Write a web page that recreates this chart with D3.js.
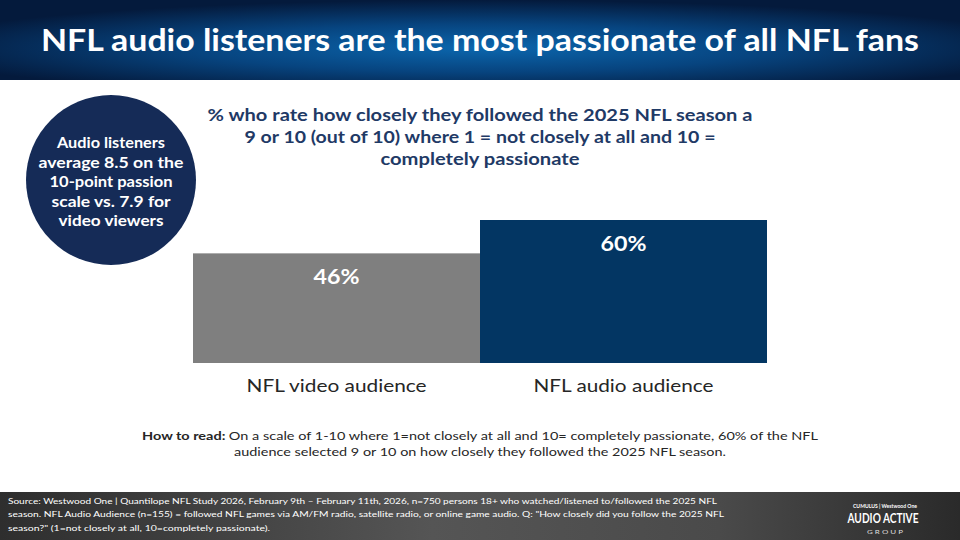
<!DOCTYPE html>
<html lang="en">
<head>
<meta charset="UTF-8">
<title>NFL audio listeners are the most passionate</title>
<script src="https://cdnjs.cloudflare.com/ajax/libs/d3/7.8.5/d3.min.js"></script>
<style>
  html, body { margin: 0; padding: 0; background: #fff; }
  svg { display: block; font-family: "Lato", "DejaVu Sans", sans-serif; }
</style>
</head>
<body>
<svg id="chart" width="960" height="540"></svg>
<script>
// ---- data ----
const categories = ['NFL video audience', 'NFL audio audience'];
const values = [46, 60];
const barColors = ['#7f7f7f', '#033663'];

const titleText = 'NFL audio listeners are the most passionate of all NFL fans';
const subtitleLines = [
  '% who rate how closely they followed the 2025 NFL season a',
  '9 or 10 (out of 10) where 1 = not closely at all and 10 =',
  'completely passionate'
];
const bubbleLines = ['Audio listeners', 'average 8.5 on the', '10-point passion', 'scale vs. 7.9 for', 'video viewers'];
const howToRead = [
  'On a scale of 1-10 where 1=not closely at all and 10= completely passionate, 60% of the NFL',
  'audience selected 9 or 10 on how closely they followed the 2025 NFL season.'
];
const sourceLines = [
  'Source: Westwood One | Quantilope NFL Study 2026, February 9th \u2013 February 11th, 2026, n=750 persons 18+ who watched/listened to/followed the 2025 NFL',
  'season. NFL Audio Audience (n=155) = followed NFL games via AM/FM radio, satellite radio, or online game audio. Q: "How closely did you follow the 2025 NFL',
  'season?" (1=not closely at all, 10=completely passionate).'
];

const svg = d3.select('#chart');
const defs = svg.append('defs');

// header gradient
const hg = defs.append('radialGradient').attr('id', 'hdr')
  .attr('cx', '50%').attr('cy', '60%').attr('r', '60%');
hg.append('stop').attr('offset', '0%').attr('stop-color', '#0b66ad');
hg.append('stop').attr('offset', '50%').attr('stop-color', '#07447f');
hg.append('stop').attr('offset', '100%').attr('stop-color', '#041a3c');

const fg = defs.append('linearGradient').attr('id', 'ftr').attr('x1', 0).attr('x2', 1);
fg.append('stop').attr('offset', '0%').attr('stop-color', '#2e2e2e');
fg.append('stop').attr('offset', '45%').attr('stop-color', '#555');
fg.append('stop').attr('offset', '75%').attr('stop-color', '#4a4a4a');
fg.append('stop').attr('offset', '100%').attr('stop-color', '#2a2a2a');

// helper: stretch text to a width
function fit(sel, w) {
  sel.attr('textLength', w).attr('lengthAdjust', 'spacingAndGlyphs');
}

// ---- header ----
svg.append('rect').attr('x', 0).attr('y', 0).attr('width', 960).attr('height', 80).attr('fill', 'url(#hdr)');
svg.append('text').attr('x', 480).attr('y', 51).attr('text-anchor', 'middle')
  .attr('fill', '#fff').attr('font-size', 30).attr('font-weight', 700)
  .text(titleText).call(fit, 878);

// ---- bubble ----
svg.append('circle').attr('cx', 111).attr('cy', 180).attr('r', 85).attr('fill', '#152b57');
const bubbleW = [108, 145, 123, 119, 105];
svg.append('g').selectAll('text').data(bubbleLines).join('text')
  .attr('x', 111).attr('y', (d, i) => 148 + i * 19.5)
  .attr('text-anchor', 'middle').attr('fill', '#fff')
  .attr('font-size', 14.5).attr('font-weight', 700)
  .text(d => d)
  .each(function (d, i) { d3.select(this).call(fit, bubbleW[i]); });

// ---- subtitle ----
const subW = [545, 471, 199];
svg.append('g').selectAll('text').data(subtitleLines).join('text')
  .attr('x', 480).attr('y', (d, i) => 121 + i * 22)
  .attr('text-anchor', 'middle').attr('fill', '#1f3a66')
  .attr('font-size', 17).attr('font-weight', 700)
  .text(d => d)
  .each(function (d, i) { d3.select(this).call(fit, subW[i]); });

// ---- bars ----
const x = d3.scaleBand().domain(categories).range([193, 767]).padding(0);
const y = d3.scaleLinear().domain([0, 60]).range([363, 220]);

svg.append('g').selectAll('rect').data(values).join('rect')
  .attr('x', (d, i) => x(categories[i]))
  .attr('y', d => y(d))
  .attr('width', x.bandwidth())
  .attr('height', d => y(0) - y(d))
  .attr('fill', (d, i) => barColors[i]);

svg.append('g').selectAll('text').data(values).join('text')
  .attr('x', (d, i) => x(categories[i]) + x.bandwidth() / 2)
  .attr('y', d => y(d) + 31)
  .attr('text-anchor', 'middle').attr('fill', '#fff')
  .attr('font-size', 20).attr('font-weight', 700)
  .text(d => d + '%')
  .call(fit, 46);

// category axis (no line / ticks)
const xAxis = svg.append('g').attr('transform', 'translate(0,363)')
  .call(d3.axisBottom(x).tickSize(0).tickPadding(17));
xAxis.select('.domain').remove();
xAxis.selectAll('text').attr('font-size', 17).attr('fill', '#262626')
  .attr('font-family', '"Lato", "DejaVu Sans", sans-serif')
  .call(fit, 180);

// ---- how to read ----
const htr = svg.append('text').attr('x', 480).attr('y', 440).attr('text-anchor', 'middle')
  .attr('fill', '#262626').attr('font-size', 11.5);
htr.append('tspan').attr('font-weight', 700).text('How to read: ');
htr.append('tspan').text(howToRead[0]);
htr.call(fit, 676);
svg.append('text').attr('x', 480).attr('y', 456).attr('text-anchor', 'middle')
  .attr('fill', '#262626').attr('font-size', 11.5)
  .text(howToRead[1]).call(fit, 492);

// ---- footer ----
svg.append('rect').attr('x', 0).attr('y', 492).attr('width', 960).attr('height', 48).attr('fill', 'url(#ftr)');
const srcW = [709, 716, 262];
svg.append('g').selectAll('text').data(sourceLines).join('text')
  .attr('x', 8).attr('y', (d, i) => 504 + i * 13.3)
  .attr('fill', '#fff').attr('font-size', 7.5)
  .text(d => d)
  .each(function (d, i) { d3.select(this).call(fit, srcW[i]); });

// logo
svg.append('text').attr('x', 885).attr('y', 508).attr('text-anchor', 'middle')
  .attr('fill', '#fff').attr('font-size', 5.5).attr('font-weight', 700)
  .text('CUMULUS  |  Westwood One').call(fit, 64);
svg.append('text').attr('x', 883).attr('y', 523).attr('text-anchor', 'middle')
  .attr('fill', '#fff').attr('font-size', 13).attr('font-weight', 700)
  .text('AUDIO ACTIVE').call(fit, 71);
svg.append('text').attr('x', 885).attr('y', 534).attr('text-anchor', 'middle')
  .attr('fill', '#ddd').attr('font-size', 6)
  .text('G R O U P').call(fit, 36);
</script>
</body>
</html>
